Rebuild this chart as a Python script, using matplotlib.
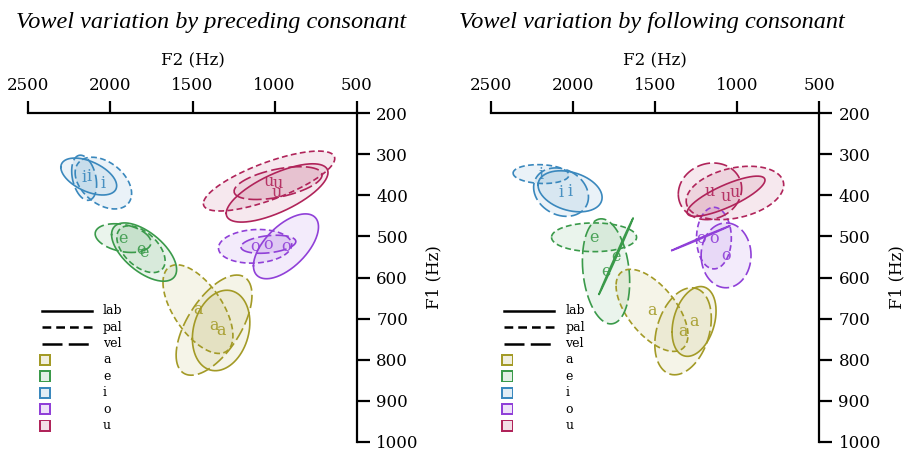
import matplotlib
matplotlib.use("Agg")
import matplotlib.pyplot as plt
import numpy as np

vowels = ['a', 'e', 'i', 'o', 'u']
contexts = ['lab', 'pal', 'vel']
colors = ['#a39a26', '#3a9a4a', '#3a88bd', '#9040d8', '#b0245a']
styles = ['-', (0, (3.5, 2)), (0, (8, 2.5))]

# preceding consonant: rows a,e,i,o,u / cols lab,pal,vel
pre_f2 = [[1326, 1467, 1369], [1795, 1814, 1923], [2132, 2043, 2160],
          [931, 1119, 1038], [985, 1034, 979]]
pre_f1 = [[729, 677, 716], [538, 531, 504], [354, 370, 357],
          [524, 524, 519], [394, 365, 370]]
pre_rx = [[175, 213, 231], [198, 147, 170], [170, 172, 76],
          [198, 223, 167], [310, 400, 268]]
pre_ry = [[98, 108, 122], [71, 57, 35], [45, 63, 55],
          [79, 41, 22], [71, 73, 40]]
pre_r = [[0.2, -0.6, 0.6], [-0.6, -0.5, -0.3], [-0.5, -0.4, -0.3],
         [0.6, 0.1, 0.3], [0.7, 0.75, 0.5]]

# following consonant
fol_f2 = [[1261, 1517, 1328], [1736, 1870, 1797], [2016, 2193, 2071],
          [1219, 1140, 1066], [1066, 1012, 1164]]
fol_f1 = [[707, 680, 731], [548, 502, 585], [390, 348, 392],
          [504, 504, 546], [402, 394, 390]]
fol_rx = [[134, 219, 172], [104, 259, 144], [195, 170, 167],
          [177, 106, 152], [237, 297, 193]]
fol_ry = [[85, 100, 106], [93, 35, 128], [50, 23, 59],
          [30, 75, 79], [49, 65, 69]]
fol_r = [[0.3, -0.6, 0.3], [0.999, 0.0, -0.2], [-0.3, -0.1, -0.2],
         [0.999, 0.0, 0.0], [0.8, 0.3, 0.1]]

xticks = [2500, 2000, 1500, 1000, 500]
yticks = [200, 300, 400, 500, 600, 700, 800, 900, 1000]

plt.rcParams['font.family'] = 'DejaVu Serif'


def ellipse(ax, c2, c1, rx, ry, r, color, ls):
    t = np.linspace(0, 2 * np.pi, 240)
    x = c2 + rx * np.cos(t)
    y = c1 + ry * (r * np.cos(t) + np.sqrt(1 - r ** 2) * np.sin(t))
    ax.fill(x, y, color=color, alpha=0.1, lw=0)
    ax.plot(x, y, color=color, ls=ls, lw=1.2)


def panel(ax, f2, f1, rx, ry, rr, title, tx):
    ax.set_xlim(2500, 500)
    ax.set_ylim(1000, 200)
    for s in ['left', 'bottom']:
        ax.spines[s].set_visible(False)
    for s in ['top', 'right']:
        ax.spines[s].set_linewidth(1.6)
    ax.xaxis.tick_top()
    ax.yaxis.tick_right()
    ax.set_xticks(xticks)
    ax.set_yticks(yticks)
    ax.tick_params(direction='out', length=9, width=1.6, labelsize=12, pad=5)
    ax.xaxis.set_label_position('top')
    ax.set_xlabel('F2 (Hz)', fontsize=12, labelpad=8)
    ax.yaxis.set_label_position('right')
    ax.set_ylabel('F1 (Hz)', fontsize=12)
    ax.yaxis.set_label_coords(1.21, 0.5)
    ax.patch.set_visible(False)

    for i, v in enumerate(vowels):
        for j in range(3):
            ellipse(ax, f2[i][j], f1[i][j], rx[i][j], ry[i][j], rr[i][j],
                    colors[i], styles[j])
            ax.text(f2[i][j], f1[i][j], v, color=colors[i], fontsize=11.5,
                    ha='center', va='center', alpha=0.9)

    # key
    y0, dy = 0.399, 0.05
    for j, c in enumerate(contexts):
        yy = y0 - j * dy
        ax.plot([0.041, 0.193], [yy, yy], transform=ax.transAxes,
                color='black', ls=styles[j], lw=1.8, clip_on=False)
        ax.text(0.227, yy, c, transform=ax.transAxes, fontsize=9,
                va='center', ha='left')
    for i, v in enumerate(vowels):
        yy = y0 - (i + 3) * dy
        ax.scatter([0.051], [yy], transform=ax.transAxes, marker='s', s=72,
                   facecolor=colors[i], edgecolor='none', zorder=3,
                   clip_on=False)
        ax.scatter([0.051], [yy], transform=ax.transAxes, marker='s', s=36,
                   facecolor='white', edgecolor='none', zorder=4, clip_on=False)
        ax.scatter([0.051], [yy], transform=ax.transAxes, marker='s', s=36,
                   facecolor=colors[i], alpha=0.15, edgecolor='none', zorder=5,
                   clip_on=False)
        ax.text(0.227, yy, v, transform=ax.transAxes, fontsize=9,
                va='center', ha='left')

    fig.text(tx, 0.949, title, fontsize=17.5, style='italic',
             family='Liberation Serif', ha='center', va='center')


fig = plt.figure(figsize=(9.05, 4.5), dpi=100)
axL = fig.add_axes([0.0313, 0.0184, 0.3629, 0.7298])
axR = fig.add_axes([0.5421, 0.0184, 0.3629, 0.7298])

panel(axL, pre_f2, pre_f1, pre_rx, pre_ry, pre_r,
      'Vowel variation by preceding consonant', 0.233)
panel(axR, fol_f2, fol_f1, fol_rx, fol_ry, fol_r,
      'Vowel variation by following consonant', 0.72)

fig.savefig('out.png', dpi=100)
